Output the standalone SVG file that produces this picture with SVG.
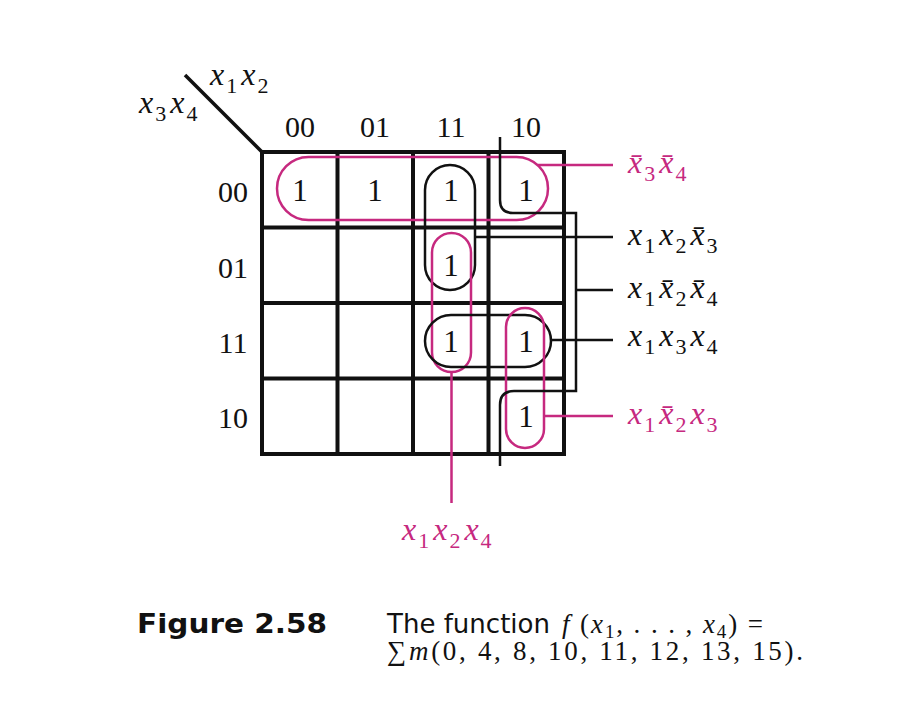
<svg xmlns="http://www.w3.org/2000/svg" width="918" height="722" viewBox="0 0 918 722">
<style>
.g{stroke:#111;stroke-width:4;fill:none}
.bk{stroke:#111;stroke-width:2.5;fill:none}
.mg{stroke:#c6297f;stroke-width:2.5;fill:none}
.num{font-family:"Liberation Serif",serif;font-size:30px;fill:#111;text-anchor:middle}
.one{font-family:"Liberation Serif",serif;font-size:31px;fill:#111;text-anchor:middle}
.lbl{font-family:"Liberation Serif",serif;font-size:32px;font-style:italic;fill:#111}
.lbl.m{fill:#c6297f}
.sub{font-size:22px;font-style:normal}
.cap{font-family:"Liberation Serif",serif;font-size:27px;fill:#111}
</style>
<rect width="918" height="722" fill="#fff"/>
<g id="kmap">
<rect class="g" x="262" y="152" width="302" height="302"/>
<path class="g" d="M337.5,152V454M413,152V454M488.5,152V454M262,227.5H564M262,303H564M262,378.5H564"/>
<line x1="185" y1="75" x2="263" y2="153" stroke="#111" stroke-width="3.5"/>
</g>
<g id="axis-labels">
<text class="lbl" x="210" y="85">x<tspan class="sub" dx="2" dy="8">1</tspan><tspan dx="4" dy="-8">x</tspan><tspan class="sub" dx="2" dy="8">2</tspan></text>
<text class="lbl" x="139" y="113">x<tspan class="sub" dx="2" dy="8">3</tspan><tspan dx="4" dy="-8">x</tspan><tspan class="sub" dx="2" dy="8">4</tspan></text>
<text class="num" x="300" y="137">00</text>
<text class="num" x="375" y="137">01</text>
<text class="num" x="451" y="137">11</text>
<text class="num" x="526" y="137">10</text>
<text class="num" x="233" y="202">00</text>
<text class="num" x="233" y="278">01</text>
<text class="num" x="233" y="353">11</text>
<text class="num" x="233" y="428">10</text>
</g>
<g id="cells">
<text class="one" x="300" y="201">1</text>
<text class="one" x="375" y="201">1</text>
<text class="one" x="451" y="201">1</text>
<text class="one" x="526" y="201">1</text>
<text class="one" x="451" y="276">1</text>
<text class="one" x="451" y="352">1</text>
<text class="one" x="526" y="352">1</text>
<text class="one" x="526" y="427">1</text>
</g>
<g id="group-x3x4">
<rect class="mg" x="277" y="157" width="271" height="63" rx="31.5"/>
</g>
<g id="group-x1x2x3">
<rect class="bk" x="425" y="165" width="50" height="125" rx="25"/>
</g>
<g id="group-x1x2x4">
<rect class="mg" x="432" y="233" width="39" height="139" rx="19.5"/>
</g>
<g id="group-x1x3x4">
<rect class="bk" x="425" y="315" width="126" height="52" rx="26"/>
</g>
<g id="group-x1x2bx3">
<rect class="mg" x="506" y="308" width="38" height="140" rx="19"/>
</g>
<g id="group-x1x2bx4b">
<path class="bk" d="M500,137V200Q500,213 513,213H576V391H514Q500,391 500,405V466"/>
</g>
<g id="connectors">
<path class="mg" d="M537.5,165H613M451.5,372V503M544,416H613"/>
<path class="bk" d="M475,237H613M576,290H613M551,340H613"/>
</g>
<g id="term-labels">
<text class="lbl m" x="628" y="173">x̄<tspan class="sub" dx="2" dy="8">3</tspan><tspan dx="4" dy="-8">x̄</tspan><tspan class="sub" dx="2" dy="8">4</tspan></text>
<text class="lbl" x="628" y="245">x<tspan class="sub" dx="2" dy="8">1</tspan><tspan dx="4" dy="-8">x</tspan><tspan class="sub" dx="2" dy="8">2</tspan><tspan dx="4" dy="-8">x̄</tspan><tspan class="sub" dx="2" dy="8">3</tspan></text>
<text class="lbl" x="628" y="298">x<tspan class="sub" dx="2" dy="8">1</tspan><tspan dx="4" dy="-8">x̄</tspan><tspan class="sub" dx="2" dy="8">2</tspan><tspan dx="4" dy="-8">x̄</tspan><tspan class="sub" dx="2" dy="8">4</tspan></text>
<text class="lbl" x="628" y="346">x<tspan class="sub" dx="2" dy="8">1</tspan><tspan dx="4" dy="-8">x</tspan><tspan class="sub" dx="2" dy="8">3</tspan><tspan dx="4" dy="-8">x</tspan><tspan class="sub" dx="2" dy="8">4</tspan></text>
<text class="lbl m" x="628" y="424">x<tspan class="sub" dx="2" dy="8">1</tspan><tspan dx="4" dy="-8">x̄</tspan><tspan class="sub" dx="2" dy="8">2</tspan><tspan dx="4" dy="-8">x</tspan><tspan class="sub" dx="2" dy="8">3</tspan></text>
<text class="lbl m" x="402" y="540">x<tspan class="sub" dx="2" dy="8">1</tspan><tspan dx="4" dy="-8">x</tspan><tspan class="sub" dx="2" dy="8">2</tspan><tspan dx="4" dy="-8">x</tspan><tspan class="sub" dx="2" dy="8">4</tspan></text>
</g>
<g id="caption">
<text x="137" y="633" font-family="'DejaVu Sans',sans-serif" font-weight="bold" font-size="27" fill="#111" textLength="190" lengthAdjust="spacingAndGlyphs">Figure 2.58</text>
<text x="387" y="633" font-family="'Liberation Sans Narrow','DejaVu Sans Condensed','Liberation Sans',sans-serif" font-size="27" fill="#111" textLength="163" lengthAdjust="spacingAndGlyphs">The function</text>
<text class="cap" x="562" y="633" textLength="201" lengthAdjust="spacing"><tspan font-style="italic">f</tspan> (<tspan font-style="italic">x</tspan><tspan font-size="19" dy="5">1</tspan><tspan dy="-5">, . . . , </tspan><tspan font-style="italic">x</tspan><tspan font-size="19" dy="5">4</tspan><tspan dy="-5">) =</tspan></text>
<text class="cap" x="387" y="660" textLength="416" lengthAdjust="spacing">∑<tspan font-style="italic">m</tspan>(0, 4, 8, 10, 11, 12, 13, 15).</text>
</g>
</svg>
